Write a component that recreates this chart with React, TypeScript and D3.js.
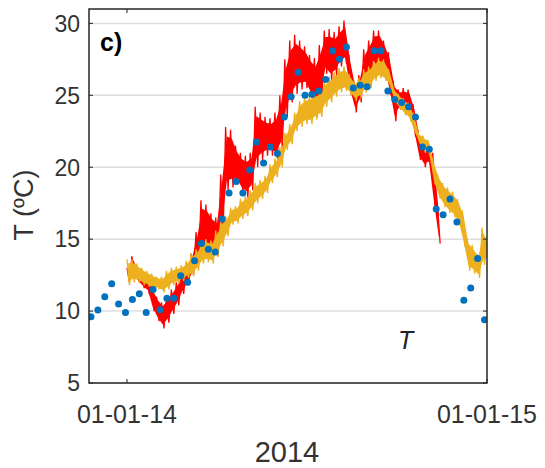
import React from "react";
import * as d3 from "d3";

// weekly samples (blue dots), first one on 25-11-2013
const dotStart = new Date(2013, 10, 25, 12);
const dotValues = [
  9.6, 10.07, 11.0, 11.9, 10.5, 9.9, 10.8, 11.2, 9.9, 11.5, 10.1, 10.9, 10.9, 12.45, 12.0,
  13.5, 14.7, 14.3, 14.1, 16.4, 18.2, 19.0, 18.2, 19.8, 21.75, 20.3, 21.4, 20.95, 23.5, 24.9,
  26.6, 25.0, 25.07, 25.3, 26.1, 28.1, 27.5, 28.35, 25.5, 25.7, 25.6, 28.1, 28.1, 25.3, 24.7,
  24.5, 24.2, 23.5, 21.4, 21.25, 17.1, 16.7, 17.8, 16.2, 10.75, 11.6, 13.65, 9.4,
];

// 5-day envelopes of the high-frequency records, from 01-01-2014
const seriesStart = new Date(2014, 0, 1);
const redLow = [
  12.0, 12.3, 12.0, 11.6, 11.3, 10.0, 9.3, 8.8, 9.2, 9.8, 10.4, 11.2, 11.8, 12.5, 13.2, 13.8,
  14.3, 14.0, 13.8, 15.5, 18.4, 18.6, 18.8, 18.2, 17.9, 18.4, 20.0, 20.5, 20.8, 20.8, 20.6,
  21.2, 23.5, 24.5, 25.1, 25.4, 25.5, 24.8, 23.5, 24.5, 26.5, 26.0, 26.3, 27.0, 27.2, 25.0,
  23.8, 24.5, 25.6, 26.3, 26.9, 27.0, 26.5, 25.0, 23.2, 24.0, 23.8, 23.8, 22.2, 20.5, 20.0,
  20.2, 17.0, 14.7,
];
const redHigh = [
  13.0, 13.8, 13.0, 12.6, 12.3, 11.7, 11.0, 10.6, 11.0, 11.5, 12.0, 12.6, 13.0, 14.0, 15.5,
  17.7, 17.4, 16.8, 16.5, 19.5, 22.8, 22.6, 21.5, 21.0, 20.8, 21.0, 24.2, 23.8, 23.5, 23.4,
  23.8, 25.0, 27.5, 28.8, 29.2, 28.8, 28.4, 27.8, 27.6, 28.5, 29.5, 29.6, 29.4, 29.8, 30.2,
  27.8, 26.0, 26.4, 28.2, 28.8, 29.5, 29.5, 28.8, 28.0, 26.0, 25.4, 25.5, 25.4, 24.4, 22.5,
  21.7, 21.5, 21.0, 17.2,
];
const orangeLow = [
  11.8, 12.0, 12.0, 11.8, 11.7, 11.5, 11.5, 11.3, 11.5, 11.8, 11.9, 12.1, 12.3, 12.4, 12.8,
  13.3, 13.4, 13.3, 13.8, 14.5, 15.2, 16.0, 16.1, 16.4, 16.6, 17.0, 17.5, 17.8, 18.2, 18.9,
  19.3, 20.0, 21.2, 21.6, 22.5, 22.8, 23.0, 23.0, 23.3, 23.5, 24.2, 24.5, 24.9, 25.2, 25.3,
  25.0, 24.6, 24.8, 25.2, 25.5, 26.0, 26.2, 26.0, 25.6, 24.5, 24.0, 23.6, 23.3, 22.4, 21.6,
  21.0, 20.8, 18.8, 17.8, 17.2, 16.8, 16.5, 16.0, 14.5, 12.8, 12.6, 12.3, 13.2, 13.5,
];
const orangeHigh = [
  13.6, 13.6, 13.3, 13.0, 12.8, 12.6, 12.4, 12.4, 12.8, 13.0, 13.1, 13.2, 13.5, 14.0, 14.3,
  14.8, 15.0, 14.9, 15.6, 16.3, 16.6, 17.2, 17.3, 17.8, 18.0, 18.4, 18.9, 19.1, 19.4, 20.2,
  20.6, 21.4, 22.4, 23.0, 23.8, 24.6, 24.9, 25.0, 25.2, 25.3, 26.0, 26.3, 26.6, 26.9, 27.0,
  26.5, 26.0, 26.2, 26.8, 27.0, 27.4, 27.6, 27.5, 26.8, 25.5, 25.1, 24.8, 24.5, 23.7, 22.4,
  22.2, 21.9, 20.5, 19.5, 18.9, 18.6, 18.3, 17.8, 17.0, 15.0, 14.6, 14.0, 15.8, 15.0,
];

const yTicks = [5, 10, 15, 20, 25, 30];
const xTicks = [new Date(2014, 0, 1), new Date(2015, 0, 1)];
const xTickLabels = ["01-01-14", "01-01-15"];

const W = 545;
const H = 468;
const box = { left: 89, right: 487, top: 9, bottom: 383 };
const font = "'Liberation Sans', Arial, sans-serif";
const axisColor = "#262626";

// block i covers days 5i .. 5i+5
const blockDate = (i: number, hours: number) => d3.timeHour.offset(seriesStart, i * 120 + hours);

// zigzag between the high and low values of each 5-day block
const zigzag = (low: number[], high: number[]) => {
  const pts: [Date, number][] = [];
  low.forEach((lo, i) => {
    pts.push([blockDate(i, 0), high[i]]);
    pts.push([blockDate(i, 60), lo]);
  });
  return pts;
};

const band = (low: number[], high: number[]) =>
  low.map((lo, i) => ({ date: blockDate(i, 30), lo: lo + (high[i] - lo) * 0.15, hi: high[i] - (high[i] - lo) * 0.15 }));

export default function App() {
  const x = d3
    .scaleTime()
    .domain([new Date(2013, 10, 23, 12), new Date(2015, 0, 1)])
    .range([box.left, box.right]);
  const y = d3.scaleLinear().domain([5, 31]).range([box.bottom, box.top]);

  const line = d3
    .line<[Date, number]>()
    .x((d) => x(d[0]))
    .y((d) => y(d[1]));
  const area = d3
    .area<{ date: Date; lo: number; hi: number }>()
    .x((d) => x(d.date))
    .y0((d) => y(d.lo))
    .y1((d) => y(d.hi));

  const series = [
    { low: redLow, high: redHigh, color: "#ff0000" },
    { low: orangeLow, high: orangeHigh, color: "#edb120" },
  ];
  const dots = dotValues.map((v, i) => ({ date: d3.timeDay.offset(dotStart, i * 7), v }));

  return (
    <svg
      width={W}
      height={H}
      style={{ position: "absolute", left: 0, top: 0, background: "#fff" }}
    >
      <defs>
        <clipPath id="plot">
          <rect x={box.left} y={box.top} width={box.right - box.left} height={box.bottom - box.top} />
        </clipPath>
      </defs>

      {/* grid */}
      {yTicks.map((t) => (
        <line
          key={"g" + t}
          x1={box.left}
          x2={box.right}
          y1={y(t)}
          y2={y(t)}
          stroke="#dedede"
          strokeWidth={1.5}
        />
      ))}

      <g clipPath="url(#plot)">
        {series.map((s) => (
          <g key={s.color}>
            <path d={area(band(s.low, s.high)) || ""} fill={s.color} />
            <path d={line(zigzag(s.low, s.high)) || ""} fill="none" stroke={s.color} strokeWidth={1.3} />
          </g>
        ))}
        {dots.map((d, i) => (
          <circle key={i} cx={x(d.date)} cy={y(d.v)} r={3.5} fill="#0072bd" />
        ))}
      </g>

      {/* box and ticks */}
      <rect
        x={box.left}
        y={box.top}
        width={box.right - box.left}
        height={box.bottom - box.top}
        fill="none"
        stroke={axisColor}
        strokeWidth={1.5}
      />
      {yTicks.map((t) => (
        <g key={"t" + t}>
          <line x1={box.left} x2={box.left + 4} y1={y(t)} y2={y(t)} stroke={axisColor} />
          <line x1={box.right - 4} x2={box.right} y1={y(t)} y2={y(t)} stroke={axisColor} />
          <text
            x={80}
            y={y(t)}
            dy="0.36em"
            textAnchor="end"
            fontFamily={font}
            fontSize={23}
            fill="#333"
          >
            {t}
          </text>
        </g>
      ))}
      {xTicks.map((t, i) => (
        <g key={"x" + i}>
          <line x1={x(t)} x2={x(t)} y1={box.bottom} y2={box.bottom - 4} stroke={axisColor} />
          <line x1={x(t)} x2={x(t)} y1={box.top} y2={box.top + 4} stroke={axisColor} />
          <text
            x={x(t)}
            y={423}
            textAnchor="middle"
            fontFamily={font}
            fontSize={25}
            fill="#333"
          >
            {xTickLabels[i]}
          </text>
        </g>
      ))}

      <text x={287} y={462} textAnchor="middle" fontFamily={font} fontSize={29} fill="#333">
        2014
      </text>
      <text
        transform="translate(33,205) rotate(-90)"
        textAnchor="middle"
        fontFamily={font}
        fontSize={27}
        fill="#333"
      >
        T (ºC)
      </text>
      <text x={100} y={51} fontFamily={font} fontSize={25} fontWeight="bold" fill="#000">
        c)
      </text>
      <text x={398} y={349} fontFamily={font} fontSize={25} fontStyle="italic" fill="#222">
        T
      </text>
    </svg>
  );
}
